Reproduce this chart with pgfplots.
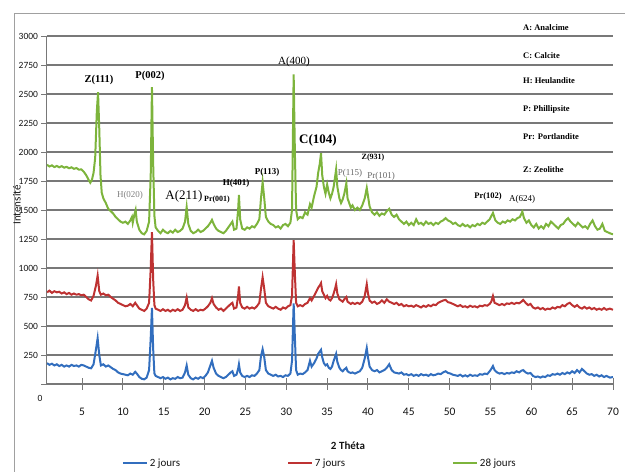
\documentclass[border=0pt]{standalone}
\usepackage{pgfplots}
\pgfplotsset{compat=1.18}
\usepackage{fontspec}
\setmainfont{Carlito}
\newfontfamily\tnr{Liberation Serif}
\definecolor{cblue}{RGB}{50,110,190}
\definecolor{cred}{RGB}{190,50,50}
\definecolor{cgreen}{RGB}{125,180,60}
\definecolor{gridgray}{RGB}{120,120,120}
\definecolor{txt}{RGB}{20,20,20}
\begin{document}
\begin{tikzpicture}[x=1pt,y=1pt]
\path[use as bounding box] (0,0) rectangle (625,472);
\begin{axis}[
  at={(47pt,88pt)}, anchor=south west, scale only axis,
  width=566pt, height=348pt,
  xmin=0.7, xmax=70, ymin=0, ymax=3000,
  axis x line=bottom, axis y line=left,
  axis line style={-, draw=gridgray, line width=1pt},
  xtick={5,10,...,70},
  ytick={0,250,...,3000},
  yticklabels={,250,500,750,1000,1250,1500,1750,2000,2250,2500,2750,3000},
  ymajorgrids,
  major grid style={gridgray, line width=1.3pt},
  tick style={gridgray, line width=1pt},
  tick align=center,
  major tick length=11pt,
  /pgf/number format/assume math mode=true,
  xticklabel style={font=\fontsize{11.5}{13}\selectfont, text=txt, yshift=-15pt},
  yticklabel style={font=\fontsize{9.5}{11}\selectfont, text=txt},
  legend style={at={(0.127,-0.227)}, anchor=west, draw=none, fill=none,
    legend columns=3, font=\fontsize{11}{13}\selectfont, text=txt,
    /tikz/every even column/.append style={column sep=105pt}},
  legend image code/.code={\draw[#1, line width=1.8pt] (0pt,0pt) -- (24pt,0pt);},
]
\addplot[cblue, line width=2pt] coordinates {
(0.7,180) (1.0,165) (1.3,175) (1.6,160) (1.9,170) (2.2,155) (2.5,165) (2.8,150) (3.1,160) (3.4,150)
(3.7,165) (4.0,155) (4.3,160) (4.6,150) (4.9,165) (5.2,160) (5.5,150) (5.8,140) (6.1,135) (6.4,170)
(6.7,300) (6.9,395) (7.1,250) (7.3,160) (7.6,170) (7.9,150) (8.2,160) (8.5,145) (8.8,130) (9.1,120)
(9.4,100) (9.7,90) (10.0,85) (10.3,80) (10.6,75) (10.9,90) (11.2,80) (11.5,105) (11.7,90) (12.0,60)
(12.3,45) (12.6,40) (12.9,55) (13.2,120) (13.4,400) (13.55,655) (13.7,300) (13.85,90) (14.0,70) (14.3,60)
(14.6,50) (14.9,60) (15.2,45) (15.5,55) (15.8,40) (16.1,50) (16.4,45) (16.7,60) (17.0,50) (17.3,55)
(17.6,100) (17.8,160) (18.0,80) (18.3,50) (18.6,40) (18.9,55) (19.2,45) (19.5,60) (19.8,50) (20.1,70)
(20.4,100) (20.7,160) (20.9,200) (21.1,140) (21.4,90) (21.7,70) (22.0,60) (22.3,50) (22.6,60) (22.9,80)
(23.2,100) (23.4,110) (23.6,70) (23.9,80) (24.1,130) (24.2,170) (24.35,100) (24.6,70) (24.9,60) (25.2,70)
(25.5,60) (25.8,75) (26.1,70) (26.4,90) (26.7,120) (26.9,240) (27.1,300) (27.3,230) (27.5,120) (27.8,90)
(28.1,80) (28.4,70) (28.7,80) (29.0,65) (29.3,70) (29.6,60) (29.9,75) (30.2,70) (30.5,90) (30.7,200)
(30.9,695) (31.05,400) (31.2,120) (31.4,80) (31.7,90) (32.0,85) (32.3,100) (32.6,120) (32.9,200) (33.1,150)
(33.4,180) (33.7,220) (33.9,260) (34.1,280) (34.25,295) (34.4,230) (34.6,180) (34.8,160) (35.0,170) (35.2,140)
(35.4,130) (35.6,150) (35.8,200) (36.0,240) (36.1,260) (36.25,190) (36.5,140) (36.7,120) (36.9,110) (37.1,125)
(37.35,140) (37.5,110) (37.7,100) (37.9,95) (38.1,100) (38.4,90) (38.7,100) (39.0,110) (39.3,140) (39.6,220)
(39.85,310) (40.0,230) (40.2,150) (40.5,120) (40.8,110) (41.1,120) (41.4,100) (41.7,110) (42.0,120) (42.3,140)
(42.6,170) (42.9,120) (43.2,100) (43.5,95) (43.8,90) (44.1,100) (44.4,80) (44.7,85) (45.0,75) (45.3,85)
(45.6,70) (45.9,80) (46.2,70) (46.5,85) (46.8,75) (47.1,80) (47.4,70) (47.7,85) (48.0,75) (48.3,80)
(48.6,90) (48.9,85) (49.2,100) (49.5,110) (49.8,95) (50.1,90) (50.4,80) (50.7,75) (51.0,70) (51.3,80)
(51.6,65) (51.9,75) (52.2,65) (52.5,80) (52.8,70) (53.1,75) (53.4,70) (53.7,85) (54.0,80) (54.3,90)
(54.6,85) (54.9,110) (55.1,130) (55.3,155) (55.5,120) (55.8,100) (56.1,90) (56.4,95) (56.7,85) (57.0,95)
(57.3,90) (57.6,100) (57.9,95) (58.2,110) (58.5,100) (58.8,115) (59.0,120) (59.3,100) (59.6,90) (59.9,95)
(60.2,70) (60.5,60) (60.8,65) (61.1,55) (61.4,65) (61.7,60) (62.0,75) (62.3,70) (62.6,85) (62.9,80)
(63.2,90) (63.5,80) (63.8,95) (64.1,85) (64.4,100) (64.7,90) (65.0,110) (65.3,95) (65.6,120) (65.9,100)
(66.2,130) (66.5,110) (66.8,90) (67.1,80) (67.4,85) (67.7,70) (68.0,80) (68.3,65) (68.6,75) (68.9,60)
(69.2,70) (69.6,55) (70.0,60)
};
\addlegendentry{2 jours}
\addplot[cred, line width=2pt] coordinates {
(0.7,790) (1.0,805) (1.3,785) (1.6,800) (1.9,790) (2.2,795) (2.5,780) (2.8,790) (3.1,775) (3.4,785)
(3.7,770) (4.0,780) (4.3,770) (4.6,775) (4.9,765) (5.2,770) (5.5,750) (5.8,730) (6.1,720) (6.4,760)
(6.7,850) (6.9,935) (7.1,800) (7.3,770) (7.6,780) (7.9,765) (8.2,770) (8.5,750) (8.8,735) (9.1,720)
(9.4,700) (9.7,690) (10.0,680) (10.3,670) (10.6,675) (10.9,690) (11.2,670) (11.5,700) (11.7,680) (12.0,650)
(12.3,640) (12.6,630) (12.9,650) (13.2,700) (13.4,1000) (13.55,1310) (13.7,900) (13.85,680) (14.0,650) (14.3,640)
(14.6,630) (14.9,645) (15.2,630) (15.5,640) (15.8,625) (16.1,640) (16.4,630) (16.7,645) (17.0,630) (17.3,640)
(17.6,680) (17.8,745) (18.0,660) (18.3,640) (18.6,630) (18.9,645) (19.2,630) (19.5,640) (19.8,635) (20.1,650)
(20.4,670) (20.7,700) (20.9,740) (21.1,690) (21.4,660) (21.7,640) (22.0,650) (22.3,630) (22.6,650) (22.9,670)
(23.2,690) (23.4,700) (23.6,650) (23.9,660) (24.1,760) (24.2,840) (24.35,700) (24.6,660) (24.9,650) (25.2,665)
(25.5,650) (25.8,660) (26.1,650) (26.4,670) (26.7,700) (26.9,820) (27.1,920) (27.3,820) (27.5,700) (27.8,670)
(28.1,660) (28.4,650) (28.7,665) (29.0,650) (29.3,640) (29.6,660) (29.9,650) (30.2,670) (30.5,680) (30.7,760)
(30.9,1240) (31.05,950) (31.2,700) (31.4,670) (31.7,680) (32.0,670) (32.3,690) (32.6,700) (32.9,740) (33.1,720)
(33.4,760) (33.7,800) (33.9,830) (34.1,850) (34.25,870) (34.4,800) (34.6,770) (34.8,740) (35.0,760) (35.2,730)
(35.4,720) (35.6,740) (35.8,780) (36.0,830) (36.1,860) (36.25,780) (36.5,730) (36.7,720) (36.9,710) (37.1,730)
(37.35,750) (37.5,710) (37.7,700) (37.9,690) (38.1,700) (38.4,690) (38.7,700) (39.0,690) (39.3,710) (39.6,760)
(39.85,860) (40.0,780) (40.2,720) (40.5,700) (40.8,710) (41.1,690) (41.4,700) (41.7,720) (42.0,700) (42.3,730)
(42.6,710) (42.9,700) (43.2,690) (43.5,700) (43.8,680) (44.1,690) (44.4,670) (44.7,680) (45.0,670) (45.3,675)
(45.6,665) (45.9,680) (46.2,670) (46.5,660) (46.8,675) (47.1,665) (47.4,680) (47.7,670) (48.0,685) (48.3,680)
(48.6,700) (48.9,710) (49.2,720) (49.5,725) (49.8,705) (50.1,700) (50.4,690) (50.7,680) (51.0,670) (51.3,680)
(51.6,665) (51.9,670) (52.2,660) (52.5,675) (52.8,665) (53.1,670) (53.4,660) (53.7,675) (54.0,670) (54.3,680)
(54.6,675) (54.9,690) (55.1,710) (55.3,758) (55.5,700) (55.8,690) (56.1,680) (56.4,690) (56.7,680) (57.0,695)
(57.3,690) (57.6,700) (57.9,690) (58.2,700) (58.5,695) (58.8,710) (59.0,725) (59.3,700) (59.6,680) (59.9,690)
(60.2,660) (60.5,650) (60.8,660) (61.1,645) (61.4,655) (61.7,640) (62.0,650) (62.3,645) (62.6,660) (62.9,650)
(63.2,665) (63.5,660) (63.8,680) (64.1,670) (64.4,690) (64.7,700) (65.0,680) (65.3,665) (65.6,680) (65.9,660)
(66.2,650) (66.5,665) (66.8,650) (67.1,660) (67.4,645) (67.7,655) (68.0,640) (68.3,650) (68.6,640) (68.9,655)
(69.2,640) (69.6,650) (70.0,640)
};
\addlegendentry{7 jours}
\addplot[cgreen, line width=2pt] coordinates {
(0.7,1890) (1.0,1875) (1.3,1885) (1.6,1870) (1.9,1880) (2.2,1868) (2.5,1878) (2.8,1865) (3.1,1872) (3.4,1860)
(3.7,1868) (4.0,1855) (4.3,1862) (4.6,1848) (4.9,1850) (5.2,1830) (5.5,1800) (5.8,1760) (6.0,1735) (6.2,1760)
(6.4,1820) (6.6,1950) (6.8,2350) (6.95,2515) (7.1,2200) (7.25,1800) (7.4,1650) (7.6,1600) (7.9,1560) (8.2,1510)
(8.5,1490) (8.8,1470) (9.1,1440) (9.4,1420) (9.7,1400) (10.0,1390) (10.3,1400) (10.6,1380) (10.9,1410) (11.1,1440)
(11.2,1390) (11.4,1460) (11.55,1500) (11.7,1400) (12.0,1330) (12.3,1300) (12.6,1290) (12.9,1320) (13.2,1400) (13.4,1800)
(13.55,2560) (13.7,1900) (13.85,1450) (14.0,1350) (14.3,1320) (14.6,1300) (14.9,1330) (15.2,1310) (15.5,1300) (15.8,1320)
(16.1,1305) (16.4,1330) (16.7,1310) (17.0,1320) (17.3,1340) (17.6,1400) (17.8,1525) (18.0,1380) (18.3,1320) (18.6,1300)
(18.9,1310) (19.2,1330) (19.5,1310) (19.8,1320) (20.1,1340) (20.4,1360) (20.7,1390) (20.9,1415) (21.1,1380) (21.4,1340)
(21.7,1320) (22.0,1310) (22.3,1300) (22.6,1320) (22.9,1350) (23.2,1380) (23.4,1400) (23.6,1330) (23.9,1340) (24.1,1500)
(24.2,1630) (24.35,1420) (24.6,1340) (24.9,1330) (25.2,1350) (25.5,1340) (25.8,1360) (26.1,1350) (26.4,1380) (26.7,1420)
(26.9,1600) (27.1,1740) (27.3,1600) (27.5,1440) (27.8,1400) (28.1,1380) (28.4,1370) (28.7,1350) (29.0,1360) (29.3,1340)
(29.6,1370) (29.9,1380) (30.2,1360) (30.5,1390) (30.7,1500) (30.9,2670) (31.05,2000) (31.2,1500) (31.4,1420) (31.7,1440)
(32.0,1430) (32.3,1480) (32.6,1460) (32.9,1550) (33.1,1520) (33.4,1620) (33.7,1700) (33.9,1820) (34.1,1900) (34.25,1990)
(34.4,1800) (34.6,1700) (34.8,1640) (35.0,1720) (35.2,1650) (35.4,1600) (35.6,1640) (35.8,1700) (36.0,1800) (36.1,1850)
(36.25,1700) (36.5,1600) (36.7,1560) (36.9,1590) (37.1,1640) (37.35,1730) (37.5,1600) (37.7,1560) (37.9,1520) (38.1,1540)
(38.4,1500) (38.7,1520) (39.0,1500) (39.3,1540) (39.6,1600) (39.85,1690) (40.0,1620) (40.2,1530) (40.5,1480) (40.8,1460)
(41.1,1480) (41.4,1450) (41.7,1470) (42.0,1460) (42.3,1490) (42.6,1510) (42.9,1460) (43.2,1440) (43.5,1460) (43.8,1420)
(44.1,1400) (44.4,1380) (44.7,1400) (45.0,1370) (45.3,1390) (45.6,1370) (45.9,1420) (46.2,1380) (46.5,1390) (46.8,1370)
(47.1,1400) (47.4,1380) (47.7,1390) (48.0,1370) (48.3,1390) (48.6,1380) (48.9,1400) (49.2,1410) (49.5,1430) (49.8,1410)
(50.1,1400) (50.4,1380) (50.7,1390) (51.0,1370) (51.3,1360) (51.6,1380) (51.9,1360) (52.2,1370) (52.5,1350) (52.8,1370)
(53.1,1360) (53.4,1380) (53.7,1370) (54.0,1390) (54.3,1380) (54.6,1400) (54.9,1420) (55.3,1475) (55.6,1410) (55.9,1390)
(56.2,1380) (56.5,1400) (56.8,1390) (57.1,1410) (57.4,1400) (57.7,1420) (58.0,1410) (58.3,1430) (58.6,1440) (58.9,1485)
(59.1,1430) (59.4,1390) (59.7,1410) (60.0,1370) (60.3,1350) (60.6,1380) (60.9,1340) (61.2,1360) (61.5,1340) (61.8,1380)
(62.1,1360) (62.4,1400) (62.7,1380) (63.0,1360) (63.3,1340) (63.6,1370) (63.9,1380) (64.2,1410) (64.5,1430) (64.8,1400)
(65.1,1380) (65.4,1360) (65.7,1390) (66.0,1370) (66.3,1350) (66.6,1360) (66.9,1340) (67.2,1380) (67.5,1410) (67.8,1360)
(68.1,1330) (68.4,1340) (68.7,1380) (69.0,1320) (69.3,1310) (69.6,1300) (70.0,1290)
};
\addlegendentry{28 jours}
\end{axis}
% outer frame
\draw[gridgray!70, line width=0.8pt] (14,0) -- (14,459) -- (625,459);
% y label and 0 label
\node[rotate=90, font=\fontsize{11}{13}\selectfont, text=txt] at (17,267) {Intensité};
\node[font=\fontsize{9.5}{11}\selectfont, text=txt] at (40,74) {0};
\node[font=\bfseries\fontsize{11}{13}\selectfont, text=txt] at (348,26) {2 Théta};
% peak annotations
\begin{scope}[every node/.style={font=\tnr, inner sep=0pt}]
\node[font=\tnr\bfseries\fontsize{10.5}{13}\selectfont] at (99,392) {Z(111)};
\node[font=\tnr\bfseries\fontsize{10.5}{13}\selectfont] at (150,396) {P(002)};
\node[font=\tnr\fontsize{11}{13}\selectfont] at (294,410) {A(400)};
\node[font=\tnr\bfseries\fontsize{13}{15}\selectfont] at (318,332) {C(104)};
\node[font=\tnr\fontsize{9}{11}\selectfont, text=gray] at (130,277) {H(020)};
\node[font=\tnr\fontsize{13}{15}\selectfont] at (184,276) {A(211)};
\node[font=\tnr\bfseries\fontsize{8}{10}\selectfont] at (217,272) {Pr(001)};
\node[font=\tnr\bfseries\fontsize{9}{11}\selectfont] at (236,289) {H(401)};
\node[font=\tnr\bfseries\fontsize{9}{11}\selectfont] at (267,300) {P(113)};
\node[font=\tnr\fontsize{9}{11}\selectfont, text=gray!80!black] at (350,299) {P(115)};
\node[font=\tnr\bfseries\fontsize{8}{10}\selectfont] at (373,314) {Z(931)};
\node[font=\tnr\fontsize{9}{11}\selectfont, text=gray!80!black] at (381,296) {Pr(101)};
\node[font=\tnr\bfseries\fontsize{8.5}{10}\selectfont] at (488,276) {Pr(102)};
\node[font=\tnr\fontsize{9}{11}\selectfont] at (522,273) {A(624)};
\end{scope}
% mineral key
\begin{scope}[every node/.style={anchor=west, inner sep=0pt, font=\tnr\bfseries\fontsize{8.5}{10}\selectfont}]
\node at (523,444) {A: Analcime};
\node at (523,416) {C: Calcite};
\node at (523,391) {H: Heulandite};
\node at (523,363) {P: Phillipsite};
\node at (523,335) {Pr: Portlandite};
\node at (523,302) {Z: Zeolithe};
\end{scope}
\end{tikzpicture}
\end{document}
